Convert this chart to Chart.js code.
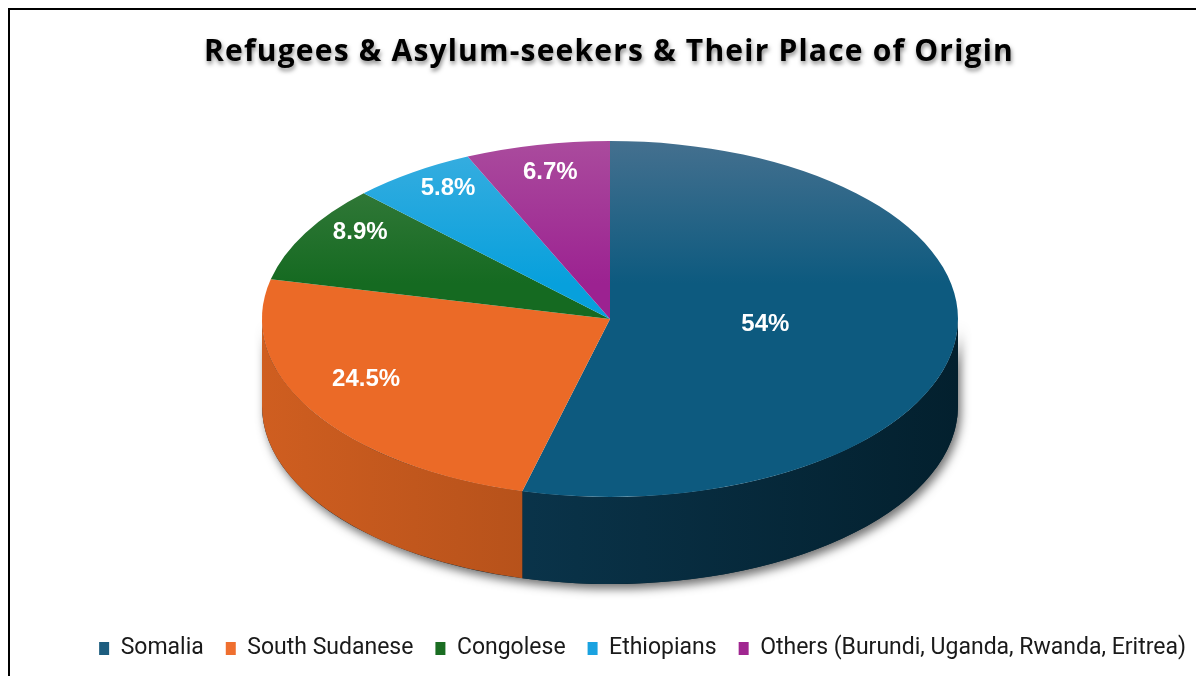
<!DOCTYPE html>
<html>
<head>
<meta charset="utf-8">
<script src="https://cdn.jsdelivr.net/npm/chart.js@4.4.1/dist/chart.umd.min.js"></script>
<style>
  html, body { margin: 0; background: #fff; }
  #frame { position: absolute; left: 8px; top: 8px; width: 1188px; height: 668px;
           border-left: 2px solid #000; border-top: 2px solid #000; }
  canvas { display: block; }
</style>
</head>
<body>
<div id="frame"><canvas id="origins" width="1186" height="666"></canvas></div>
<script>
// --- data ---
const origins = ['Somalia', 'South Sudanese', 'Congolese', 'Ethiopians', 'Others (Burundi, Uganda, Rwanda, Eritrea)'];
const shares = [54, 24.5, 8.9, 5.8, 6.7];
const shareLabels = ['54%', '24.5%', '8.9%', '5.8%', '6.7%'];

// --- styles ---
const faceColors  = ['#0d5a7f', '#eb6a27', '#156a21', '#07a0dc', '#9c2291'];
const faceLight   = ['#44708f', '#ec8656', '#3f7f43', '#3aaee0', '#aa4b9d'];
const sideLight   = ['#0e3f5a', '#cf5e20', '#12521a', '#067fb0', '#7a1a70'];
const sideDark    = ['#03202e', '#8f3e12', '#0a3310', '#045a80', '#52104a'];
const legendColors = ['#1d5d7f', '#ef6f2f', '#1a6d22', '#1aa2e0', '#a02690'];

// where the tilted pie sits on the canvas
const view = { cx: 600, cy: 309, rx: 348, ry: 178, depth: 87 };

function faceFill(context) {
  const i = context.dataIndex;
  const area = context.chart.chartArea;
  if (!area) return faceColors[i];
  const cy = (area.top + area.bottom) / 2;
  const r = Math.min(area.right - area.left, area.bottom - area.top) / 2;
  const g = context.chart.ctx.createLinearGradient(0, cy - r, 0, cy + r);
  g.addColorStop(0, faceLight[i]);
  g.addColorStop(0.4, faceColors[i]);
  g.addColorStop(1, faceColors[i]);
  return g;
}

// draws the side wall, squashes the library's arcs into an ellipse, writes the labels
const pie3d = {
  id: 'pie3d',
  beforeDatasetsDraw(chart) {
    const ctx = chart.ctx;
    const arcs = chart.getDatasetMeta(0).data;
    const first = arcs[0];

    // soft shadow under the whole body
    ctx.save();
    ctx.beginPath();
    ctx.ellipse(view.cx, view.cy, view.rx, view.ry, 0, 0, Math.PI);
    ctx.ellipse(view.cx, view.cy + view.depth, view.rx, view.ry, 0, Math.PI, 0, true);
    ctx.closePath();
    ctx.shadowColor = 'rgba(0,0,0,0.55)';
    ctx.shadowBlur = 10;
    ctx.shadowOffsetX = 3;
    ctx.shadowOffsetY = 5;
    ctx.fillStyle = sideDark[0];
    ctx.fill();
    ctx.restore();

    // front walls of each slice
    arcs.forEach((arc, i) => {
      const s = Math.max(arc.startAngle, 0);
      const e = Math.min(arc.endAngle, Math.PI);
      if (e <= s) return;
      ctx.beginPath();
      ctx.ellipse(view.cx, view.cy, view.rx, view.ry, 0, s, e);
      ctx.ellipse(view.cx, view.cy + view.depth, view.rx, view.ry, 0, e, s, true);
      ctx.closePath();
      const g = ctx.createLinearGradient(view.cx - view.rx, 0, view.cx + view.rx, 0);
      g.addColorStop(0, sideLight[i]);
      g.addColorStop(1, sideDark[i]);
      ctx.fillStyle = g;
      ctx.fill();
    });

    ctx.save();
    ctx.translate(view.cx, view.cy);
    ctx.scale(view.rx / first.outerRadius, view.ry / first.outerRadius);
    ctx.translate(-first.x, -first.y);
  },
  afterDatasetsDraw(chart) {
    const ctx = chart.ctx;
    ctx.restore();
    const arcs = chart.getDatasetMeta(0).data;
    ctx.save();
    ctx.font = 'bold 24px "Liberation Sans", Arial, sans-serif';
    ctx.fillStyle = '#fff';
    ctx.textAlign = 'center';
    ctx.textBaseline = 'middle';
    arcs.forEach((arc, i) => {
      const mid = (arc.startAngle + arc.endAngle) / 2;
      const big = shares[i] >= 40;
      const f = big ? 0.45 : 0.82;
      const x = view.cx + Math.cos(mid) * f * view.rx;
      const y = view.cy + Math.sin(mid) * f * view.ry - (big ? 5 : 18 * Math.abs(Math.cos(mid)));
      ctx.fillText(shareLabels[i], x, y);
    });
    ctx.restore();
  }
};

const chart = new Chart(document.getElementById('origins'), {
  type: 'pie',
  data: {
    labels: origins,
    datasets: [{
      data: shares,
      backgroundColor: faceFill,
      borderWidth: 0
    }]
  },
  options: {
    responsive: false,
    animation: false,
    layout: { padding: { left: 0, right: -12, bottom: 6 } },
    plugins: {
      title: {
        display: true,
        text: 'Refugees & Asylum-seekers & Their Place of Origin',
        color: '#000',
        font: { family: '"Open Sans", sans-serif', size: 30, weight: 'bold' },
        padding: { top: 24, bottom: 20 }
      },
      legend: {
        position: 'bottom',
        align: 'end',
        labels: {
          boxWidth: 10,
          boxHeight: 13,
          padding: 22,
          color: '#1a1a1a',
          font: { family: 'Roboto, sans-serif', size: 23 },
          generateLabels: () => origins.map((name, i) => ({
            text: name, fillStyle: legendColors[i], strokeStyle: legendColors[i],
            fontColor: '#1a1a1a', lineWidth: 0, index: i, hidden: false
          }))
        }
      },
      tooltip: { enabled: false }
    }
  },
  plugins: [pie3d]
});

// give the title its soft drop shadow
const titleDraw = chart.titleBlock.draw.bind(chart.titleBlock);
chart.titleBlock.draw = function () {
  const ctx = chart.ctx;
  ctx.save();
  ctx.letterSpacing = '1.2px';
  ctx.shadowColor = 'rgba(0,0,0,0.45)';
  ctx.shadowBlur = 4;
  ctx.shadowOffsetX = 1;
  ctx.shadowOffsetY = 3;
  titleDraw();
  ctx.restore();
};
chart.render();
</script>
</body>
</html>
